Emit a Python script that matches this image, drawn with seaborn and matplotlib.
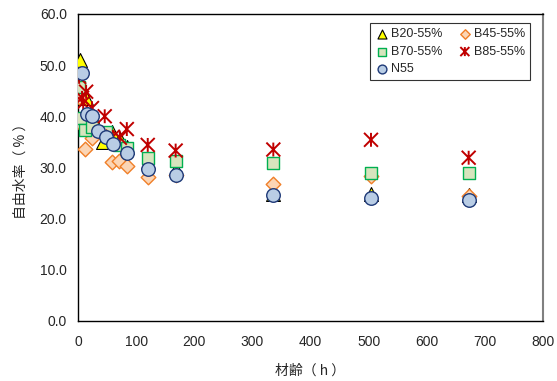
import numpy as np
import pandas as pd
import matplotlib
matplotlib.use("Agg")
import matplotlib.pyplot as plt
from matplotlib.path import Path
import seaborn as sns

# ages (h) and free water ratio (%)
b20_t = [3, 14, 24, 43, 58, 72, 84, 120, 168, 336, 504, 672]
b20_y = [51.0, 43.6, 40.0, 35.0, 37.0, 35.5, 34.0, 31.0, 29.7, 24.8, 24.8, 24.6]

b45_t = [1, 3, 12, 24, 58, 71, 84, 120, 168, 336, 504, 672]
b45_y = [43.8, 38.6, 33.6, 35.8, 31.1, 31.3, 30.3, 28.1, 28.6, 26.8, 28.3, 24.4]

b70_t = [2, 7, 12, 24, 48, 70, 84, 120, 168, 336, 504, 672]
b70_y = [45.7, 39.7, 37.3, 37.9, 37.0, 34.4, 33.8, 31.9, 31.3, 30.9, 28.9, 28.9]

b85_t = [2, 7, 9, 14, 24, 46, 60, 72, 84, 120, 168, 336, 504, 672]
b85_y = [47.7, 43.6, 42.6, 44.8, 41.6, 40.0, 36.0, 35.8, 37.5, 34.4, 33.3, 33.5, 35.4, 31.9]

n55_t = [7, 15, 24, 35, 48, 60, 84, 120, 168, 336, 504, 672]
n55_y = [48.5, 40.5, 40.1, 37.2, 36.0, 34.5, 32.8, 29.7, 28.5, 24.6, 24.0, 23.6]

sns.set_style("white")
plt.rcParams['font.family'] = ['Liberation Sans', 'Noto Sans CJK JP', 'DejaVu Sans']

# excel style star: X plus a vertical bar
star = Path([(-1, -1), (1, 1), (-1, 1), (1, -1), (0, -1), (0, 1)],
            [Path.MOVETO, Path.LINETO, Path.MOVETO, Path.LINETO, Path.MOVETO, Path.LINETO])

series = [
    ("B20-55%", b20_t, b20_y, dict(marker="^", s=100, color="#FFFF00", edgecolor="black", linewidth=0.8)),
    ("B45-55%", b45_t, b45_y, dict(marker="D", s=55, color="#FBD5B5", edgecolor="#F07F28", linewidth=1.0)),
    ("B70-55%", b70_t, b70_y, dict(marker="s", s=85, color="#D7E4BD", edgecolor="#00B050", linewidth=1.0)),
    ("B85-55%", b85_t, b85_y, dict(marker=star, s=100, facecolor="none", edgecolor="#C00000", linewidth=1.4)),
    ("N55", n55_t, n55_y, dict(marker="o", s=95, color="#B9CDE5", edgecolor="#1F3A78", linewidth=1.0)),
]

fig = plt.figure(figsize=(5.57, 3.81), dpi=100)
ax = fig.add_axes([0.140, 0.1575, 0.835, 0.806])

for name, t, y, kw in series:
    df = pd.DataFrame({"t": t, "y": y})
    sns.scatterplot(data=df, x="t", y="y", ax=ax, label=name, zorder=3, **kw)

ax.set_xlim(0, 800)
ax.set_ylim(0, 60)
ax.set_xticks(np.arange(0, 801, 100))
ax.set_yticks(np.arange(0, 61, 10))
ax.set_yticklabels([f"{v:.1f}" for v in np.arange(0, 61, 10)])
ax.tick_params(direction="in", length=4, width=0.8, labelsize=10, pad=8, color="black")
ax.tick_params(axis="x", pad=10)

for side in ["left", "bottom", "top"]:
    ax.spines[side].set_color("black")
    ax.spines[side].set_linewidth(1.0)
ax.spines["right"].set_color("#808080")
ax.spines["right"].set_linewidth(1.5)

ax.set_xlabel("材齢（ h ）", fontsize=10, family=['Noto Sans CJK JP'], labelpad=11)
ax.set_ylabel("自由水率（ % ）", fontsize=10, family=['Noto Sans CJK JP'], labelpad=9)

h, l = ax.get_legend_handles_labels()
order = [0, 2, 4, 1, 3]
leg = ax.legend([h[i] for i in order], [l[i] for i in order], ncol=2, loc="upper right",
                bbox_to_anchor=(0.985, 0.99), fontsize=9, frameon=True, fancybox=False,
                edgecolor="black", handletextpad=0.1, columnspacing=1.2, markerscale=0.65,
                borderpad=0.4, labelspacing=0.45, handlelength=1.2)
leg.get_frame().set_linewidth(0.8)

fig.savefig("out.png", dpi=100)
